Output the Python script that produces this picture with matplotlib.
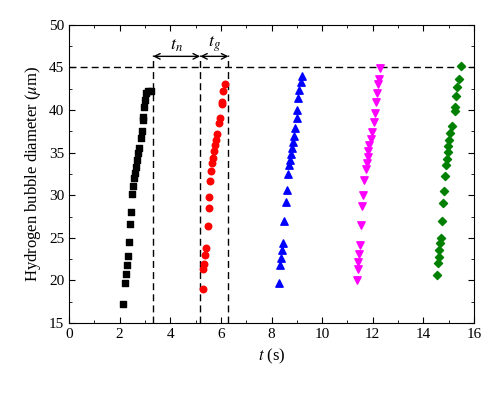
import matplotlib
matplotlib.use("Agg")
import matplotlib.pyplot as plt
from matplotlib.ticker import MultipleLocator

plt.rcParams['font.family'] = ['Liberation Serif', 'DejaVu Serif']
plt.rcParams['mathtext.fontset'] = 'stix'

# Series data (t in s, diameter in um)
t1 = [2.15, 2.21, 2.25, 2.30, 2.34, 2.38, 2.41, 2.45, 2.48, 2.52, 2.57, 2.61, 2.65, 2.70, 2.74,
      2.78, 2.83, 2.87, 2.91, 2.94, 2.96, 3.00, 3.04, 3.14, 3.23]
d1 = [17.2, 19.7, 20.8, 21.8, 22.9, 24.5, 26.6, 28.0, 30.2, 31.1, 32.0, 32.6, 33.3, 34.1, 34.9,
      35.5, 36.7, 37.5, 38.8, 39.2, 40.4, 41.2, 42.0, 42.2, 42.2]

t2 = [5.28, 5.31, 5.35, 5.38, 5.42, 5.48, 5.53, 5.55, 5.57, 5.61, 5.64, 5.68, 5.73, 5.77, 5.81,
      5.86, 5.94, 5.97, 6.03, 6.06, 6.10, 6.17]
d2 = [19.0, 21.4, 21.9, 23.0, 23.8, 26.4, 28.5, 29.8, 31.7, 32.8, 33.8, 34.4, 35.2, 35.9, 36.5,
      37.2, 38.5, 39.1, 40.7, 41.0, 42.2, 43.0]

t3 = [8.30, 8.34, 8.38, 8.43, 8.47, 8.51, 8.56, 8.60, 8.64, 8.70, 8.74, 8.77, 8.80, 8.84, 8.88,
      8.93, 9.00, 9.00, 9.06, 9.10, 9.17, 9.22]
d3 = [19.7, 21.8, 22.6, 23.6, 24.4, 27.0, 29.2, 30.6, 32.5, 33.5, 34.1, 34.8, 35.5, 36.2, 36.9,
      37.9, 39.1, 40.0, 41.4, 42.4, 43.3, 44.0]

t4 = [11.37, 11.41, 11.43, 11.46, 11.50, 11.54, 11.59, 11.63, 11.67, 11.73, 11.77, 11.81, 11.83,
      11.87, 11.92, 11.96, 12.03, 12.07, 12.12, 12.16, 12.20, 12.23, 12.29]
d4 = [20.1, 21.4, 22.2, 23.1, 24.2, 26.5, 28.7, 30.0, 31.8, 33.1, 33.8, 34.5, 35.2,
      35.9, 36.6, 37.4, 38.6, 39.6, 40.9, 42.0, 43.0, 43.7, 44.9]

t5 = [14.53, 14.57, 14.60, 14.62, 14.66, 14.70, 14.75, 14.79, 14.82, 14.86, 14.90, 14.93, 14.97,
      14.99, 15.03, 15.07, 15.12, 15.23, 15.26, 15.30, 15.34, 15.39, 15.49]
d5 = [20.7, 22.0, 22.8, 23.6, 24.4, 25.0, 27.0, 29.1, 30.5, 32.3, 33.6, 34.3, 35.1,
      35.8, 36.5, 37.3, 38.1, 39.9, 40.3, 41.6, 42.7, 43.7, 45.2]

# Annotation values
d_max = 45.0
t_end1 = 3.32
t_start2 = 5.18
t_end2 = 6.30

fig = plt.figure(figsize=(5.0, 3.94), dpi=100)
ax = fig.add_axes([0.138, 0.180, 0.810, 0.757])

ax.scatter(t1, d1, marker='s', s=20, color='black', zorder=3)
ax.scatter(t2, d2, marker='o', s=22, color='red', zorder=3)
ax.scatter(t3, d3, marker='^', s=28, color='blue', zorder=3)
ax.scatter(t4, d4, marker='v', s=28, color='magenta', zorder=3)
ax.scatter(t5, d5, marker='D', s=17, color='green', zorder=3)

ax.axhline(d_max, color='black', ls=(0, (5, 3)), lw=1.0, zorder=2)
for tv in (t_end1, t_start2, t_end2):
    ax.plot([tv, tv], [15, 46.5], color='black', ls=(0, (5, 3)), lw=1.0, zorder=2)

ax.annotate('', xy=(t_end1, 46.3), xytext=(t_start2, 46.3),
            arrowprops=dict(arrowstyle='<->', color='black', lw=1.0, shrinkA=0, shrinkB=0))
ax.annotate('', xy=(t_start2, 46.3), xytext=(t_end2, 46.3),
            arrowprops=dict(arrowstyle='<->', color='black', lw=1.0, shrinkA=0, shrinkB=0))
ax.text((t_end1 + t_start2) / 2, 46.6, r'$t_n$', ha='center', va='bottom', fontsize=13)
ax.text((t_start2 + t_end2) / 2, 46.6, r'$t_g$', ha='center', va='bottom', fontsize=13)

ax.set_xlim(0, 16)
ax.set_ylim(15, 50)
ax.xaxis.set_major_locator(MultipleLocator(2))
ax.xaxis.set_minor_locator(MultipleLocator(1))
ax.yaxis.set_major_locator(MultipleLocator(5))
ax.yaxis.set_minor_locator(MultipleLocator(2.5))
ax.tick_params(which='both', direction='in', top=True, right=True, labelsize=11)
ax.tick_params(which='major', length=4)
ax.tick_params(which='minor', length=2.5)

ax.set_xlabel(r'$t$ (s)', fontsize=12)
ax.set_ylabel(r'Hydrogen bubble diameter ($\mu$m)', fontsize=12)

fig.savefig('out.png', dpi=100)
